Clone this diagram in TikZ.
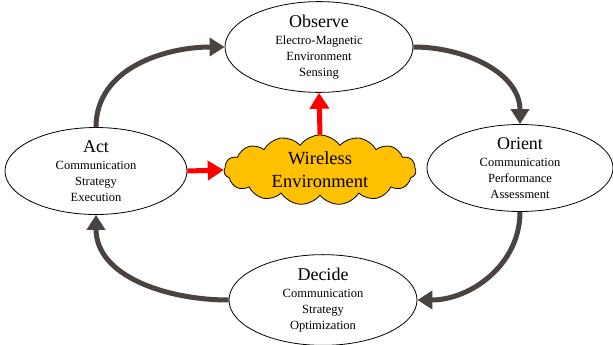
\documentclass[tikz,border=0pt]{standalone}
\usepackage{fontspec}
\setmainfont{Liberation Serif}
\usetikzlibrary{shapes.geometric,shapes.symbols,arrows.meta}
\definecolor{loopgray}{HTML}{4A4340}
\definecolor{cloudfill}{HTML}{FFC000}
\tikzset{
  phase/.style={draw=black, line width=0.8pt, ellipse, fill=white, inner sep=0pt,
    minimum width=188pt, minimum height=87pt, align=center,
    font=\fontsize{12.5}{16}\selectfont},
  loop/.style={draw=loopgray, line width=5pt, -{Triangle[width=18pt,length=15pt]}},
  redarrow/.style={draw=red, line width=5pt, -{Triangle[width=19pt,length=16pt]}},
  env/.style={draw=black, line width=0.8pt, cloud, cloud puffs=15, cloud puff arc=110,
    aspect=2.7, fill=cloudfill, minimum width=192pt, minimum height=70pt, inner sep=0pt,
    align=center, font=\fontsize{18.5}{23}\selectfont}
}
\newcommand{\ttl}[1]{{\fontsize{18}{19}\selectfont #1}\\[1pt]}
\begin{document}
\begin{tikzpicture}[x=1pt,y=-1pt]
\useasboundingbox (0,0) rectangle (613,345);
\node[phase] (obs) at (319,47) {\ttl{Observe}Electro-Magnetic\\Environment\\Sensing};
\node[phase, minimum width=186pt] (ori) at (520,168) {\ttl{Orient}Communication\\Performance\\Assessment};
\node[phase, minimum width=182pt] (act) at (96,171) {\ttl{Act}Communication\\Strategy\\Execution};
\node[phase] (dec) at (323,300) {\ttl{Decide}Communication\\Strategy\\Optimization};
\node[env] (cloud) at (320,170) {Wireless\\Environment};
\draw[loop] (act.north) to[out=90,in=180] (obs.west);
\draw[loop] (obs.east) to[out=0,in=90] (ori.north);
\draw[loop] (ori.south) to[out=-90,in=0] (dec.east);
\draw[loop] (dec.west) to[out=180,in=-90] (act.south);
\draw[redarrow] (cloud.north) -- (obs.south);
\draw[redarrow] (act.east) -- (cloud.west);
\end{tikzpicture}
\end{document}
